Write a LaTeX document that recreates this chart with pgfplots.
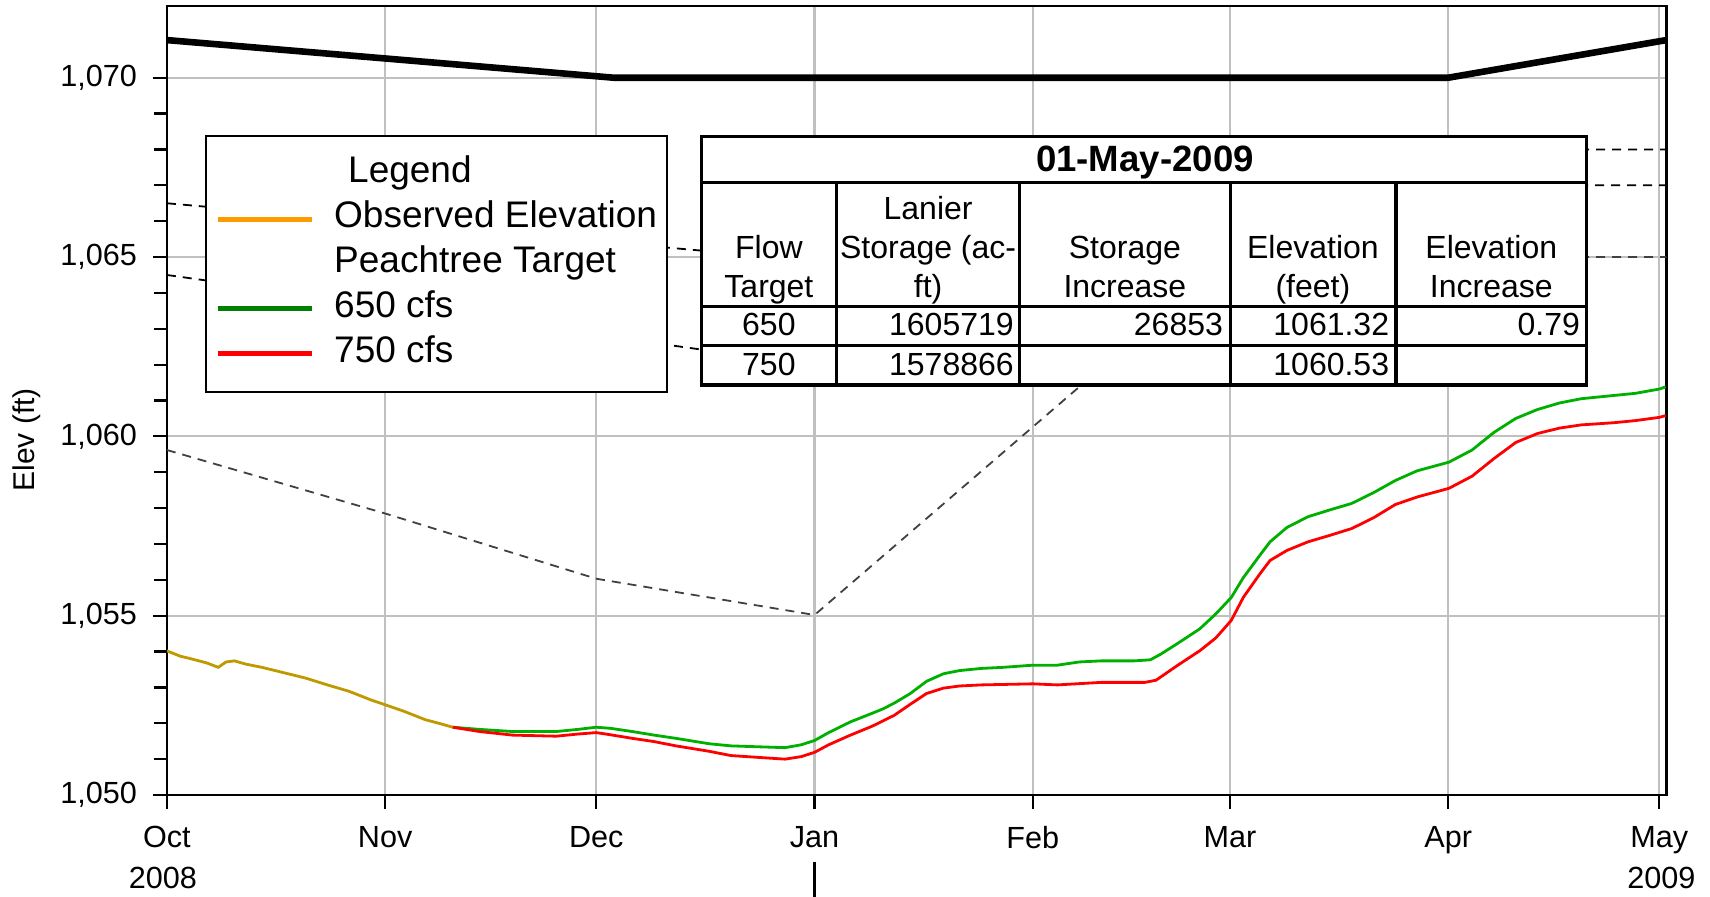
\documentclass[border=0pt]{standalone}
\usepackage{fontspec}
\setmainfont{Liberation Sans}
\usepackage{pgfplots}
\pgfplotsset{compat=1.18}

\definecolor{obsline}{HTML}{BF9900}
\definecolor{obsleg}{HTML}{FF9900}
\definecolor{grn}{HTML}{00B000}
\definecolor{grnleg}{HTML}{008000}
\definecolor{gridgray}{HTML}{C0C0C0}
\definecolor{guidegray}{HTML}{404040}

\begin{document}
\begin{tikzpicture}
\begin{axis}[
  width=749.75pt, height=394.5pt, scale only axis,
  xmin=0, xmax=213, ymin=1050, ymax=1072,
  xtick={0,31,61,92,123,151,182,212},
  xticklabels={Oct,Nov,Dec,Jan,Feb,Mar,Apr,May},
  ytick={1050,1055,1060,1065,1070},
  minor y tick num=4,
  tick pos=left, tick align=outside,
  major tick length=7pt, minor tick length=6.5pt,
  every tick/.style={black, line width=1.1pt},
  grid=major, major grid style={gridgray, line width=1.1pt},
  axis line style={black, line width=1.2pt},
  ticklabel style={font=\fontsize{15.3}{18}\selectfont},
  xticklabel style={yshift=-5pt},
  yticklabel style={xshift=-4.5pt},
  /pgf/number format/assume math mode=true,
  ylabel={Elev (ft)},
  ylabel style={font=\fontsize{15}{18}\selectfont, at={(axis description cs:-0.0934,0.45)}, anchor=center},
  legend style={at={(rel axis cs:0.02534,0.8365)}, anchor=north west, draw=black, line width=0.8pt,
    fill=white, font=\fontsize{18.5}{22}\selectfont, inner xsep=3pt, inner ysep=8pt, row sep=0pt,
    column sep=8pt,
    nodes={inner ysep=2pt, text height=13.5pt, text depth=4.9pt}},
  legend cell align=left,
  legend image code/.code={\draw[#1] (3pt,0pt) -- (50pt,0pt);},
]
% top of conservation pool
\addplot[black, line width=3.3pt, forget plot] coordinates {(0,1071.05)(63.5,1070)(182,1070)(213,1071.05)};
% action zone guide lines
\addplot[black, line width=0.9pt, dash pattern=on 4.5pt off 3.5pt, forget plot] coordinates {(0,1066.5)(92,1064.9)(160,1067)(198,1068)(213,1068)};
\addplot[black, line width=0.9pt, dash pattern=on 4.5pt off 3.5pt, forget plot] coordinates {(0,1064.5)(92,1061.98)(160,1065)(198,1067)(213,1067)};
\addplot[guidegray, line width=0.9pt, dash pattern=on 4.5pt off 3.5pt, forget plot] coordinates {(0,1059.62)(31,1057.85)(61,1056.03)(92,1055.02)(151,1065)(213,1065)};
% observed
\addplot[obsline, line width=1.4pt, forget plot] coordinates {
(0,1054.02)(1.9,1053.87)(3.4,1053.8)(5.7,1053.68)(7.3,1053.56)(8.4,1053.71)(9.6,1053.74)
(11.2,1053.65)(13.5,1053.56)(16.6,1053.41)(19.7,1053.26)(22.8,1053.07)(25.9,1052.89)
(29,1052.65)(30.8,1052.53)(33.6,1052.34)(36.7,1052.1)(39,1051.98)(40.6,1051.89)};
% 650 cfs
\addplot[grn, line width=1.4pt, forget plot] coordinates {
(40.6,1051.89)(44.4,1051.83)(49.1,1051.77)(55.3,1051.77)(58.4,1051.83)(61.0,1051.89)(63.0,1051.86)
(66.1,1051.77)(69.2,1051.67)(72.3,1051.58)(77.0,1051.43)(80.1,1051.37)(84.7,1051.34)(87.8,1051.32)
(90.1,1051.4)(92.0,1051.52)(94.0,1051.74)(97.1,1052.04)(100.2,1052.28)(101.7,1052.4)(103.3,1052.56)
(105.6,1052.83)(107.9,1053.17)(110.3,1053.38)(112.6,1053.47)(115.7,1053.53)(118.8,1053.56)
(123.0,1053.62)(126.5,1053.62)(129.6,1053.71)(132.7,1053.74)(137.4,1053.74)(139.7,1053.77)
(141.2,1053.93)(143.6,1054.23)(146.7,1054.63)(149.0,1055.05)(151.2,1055.51)(152.9,1056.06)
(155.2,1056.67)(156.7,1057.06)(159.1,1057.46)(162.1,1057.76)(165.2,1057.95)(168.3,1058.13)
(171.4,1058.43)(174.5,1058.77)(177.6,1059.04)(182.1,1059.28)(185.4,1059.62)(188.5,1060.11)
(191.6,1060.5)(194.7,1060.75)(197.8,1060.93)(200.9,1061.05)(205.5,1061.14)(208.6,1061.2)
(212.0,1061.32)(212.9,1061.38)};
% 750 cfs
\addplot[red, line width=1.4pt, forget plot] coordinates {
(40.6,1051.89)(44.4,1051.77)(49.1,1051.67)(55.3,1051.64)(58.4,1051.7)(61.0,1051.74)(63.0,1051.68)
(66.1,1051.58)(69.2,1051.49)(72.3,1051.37)(77.0,1051.22)(80.1,1051.1)(84.7,1051.04)(87.8,1051.0)
(90.1,1051.07)(92.0,1051.19)(94.0,1051.4)(97.1,1051.67)(100.2,1051.92)(103.3,1052.22)
(105.6,1052.53)(107.9,1052.83)(110.3,1052.98)(112.6,1053.04)(115.7,1053.07)(123.0,1053.1)
(126.5,1053.07)(132.7,1053.14)(138.9,1053.14)(140.5,1053.2)(143.6,1053.62)(146.7,1054.02)
(149.0,1054.38)(151.2,1054.87)(152.9,1055.51)(155.2,1056.15)(156.7,1056.54)(159.1,1056.82)
(162.1,1057.06)(165.2,1057.24)(168.3,1057.43)(171.4,1057.73)(174.5,1058.1)(177.6,1058.31)
(182.1,1058.55)(185.4,1058.89)(188.5,1059.38)(191.6,1059.83)(194.7,1060.08)(197.8,1060.23)
(200.9,1060.32)(205.5,1060.38)(208.6,1060.44)(212.0,1060.53)(212.9,1060.58)};
% legend
\addlegendimage{empty legend}\addlegendentry{\hspace{7pt}Legend}
\addlegendimage{obsleg, line width=2.5pt}\addlegendentry{Observed Elevation}
\addlegendimage{empty legend}\addlegendentry{Peachtree Target}
\addlegendimage{grnleg, line width=2.5pt}\addlegendentry{650 cfs}
\addlegendimage{red, line width=2.5pt}\addlegendentry{750 cfs}
\coordinate (oct) at (axis cs:0,1050);
\coordinate (jan) at (axis cs:92,1050);
\coordinate (may) at (axis cs:212,1050);
\end{axis}
% years
\node[font=\fontsize{15.3}{18}\selectfont, anchor=center] at ([xshift=-2pt, yshift=-41.5pt]oct) {2008};
\node[font=\fontsize{15.3}{18}\selectfont, anchor=center] at ([xshift=1pt, yshift=-41.5pt]may) {2009};
\draw[black, line width=1.2pt] ([yshift=-33.3pt]jan) -- ([yshift=-52pt]jan);
% results table
\begin{scope}[line width=1.6pt]
\filldraw[fill=white, draw=black] (267.2pt,205pt) rectangle (709.9pt,329.3pt);
\draw (267.2pt,306.4pt) -- (709.9pt,306.4pt);
\draw (267.2pt,244.3pt) -- (709.9pt,244.3pt);
\draw (267.2pt,224.6pt) -- (709.9pt,224.6pt);
\foreach \cx in {334.8,426.4,531.6,614.5} {\draw (\cx pt,205pt) -- (\cx pt,306.4pt);}
\end{scope}
\begin{scope}[every node/.style={font=\fontsize{16}{19.6}\selectfont, inner sep=0pt}]
\node[anchor=base, font=\bfseries\fontsize{18.3}{20}\selectfont] at (489pt,311.9pt) {01-May-2009};
\node[anchor=base] at (301pt,268.3pt) {Flow};
\node[anchor=base] at (301pt,248.6pt) {Target};
\node[anchor=base] at (380.6pt,287.9pt) {Lanier};
\node[anchor=base] at (380.6pt,268.3pt) {Storage (ac-};
\node[anchor=base] at (380.6pt,248.6pt) {ft)};
\node[anchor=base] at (479pt,268.3pt) {Storage};
\node[anchor=base] at (479pt,248.6pt) {Increase};
\node[anchor=base] at (573pt,268.3pt) {Elevation};
\node[anchor=base] at (573pt,248.6pt) {(feet)};
\node[anchor=base] at (662.2pt,268.3pt) {Elevation};
\node[anchor=base] at (662.2pt,248.6pt) {Increase};
\node[anchor=base] at (301pt,229.5pt) {650};
\node[anchor=base east] at (423.6pt,229.5pt) {1605719};
\node[anchor=base east] at (528.2pt,229.5pt) {26853};
\node[anchor=base east] at (611.3pt,229.5pt) {1061.32};
\node[anchor=base east] at (706.7pt,229.5pt) {0.79};
\node[anchor=base] at (301pt,209.9pt) {750};
\node[anchor=base east] at (423.6pt,209.9pt) {1578866};
\node[anchor=base east] at (611.3pt,209.9pt) {1060.53};
\end{scope}
\pgfresetboundingbox
\path[use as bounding box] (-83.45pt,-50.5pt) rectangle (771.55pt,397.5pt);
\end{tikzpicture}
\end{document}
